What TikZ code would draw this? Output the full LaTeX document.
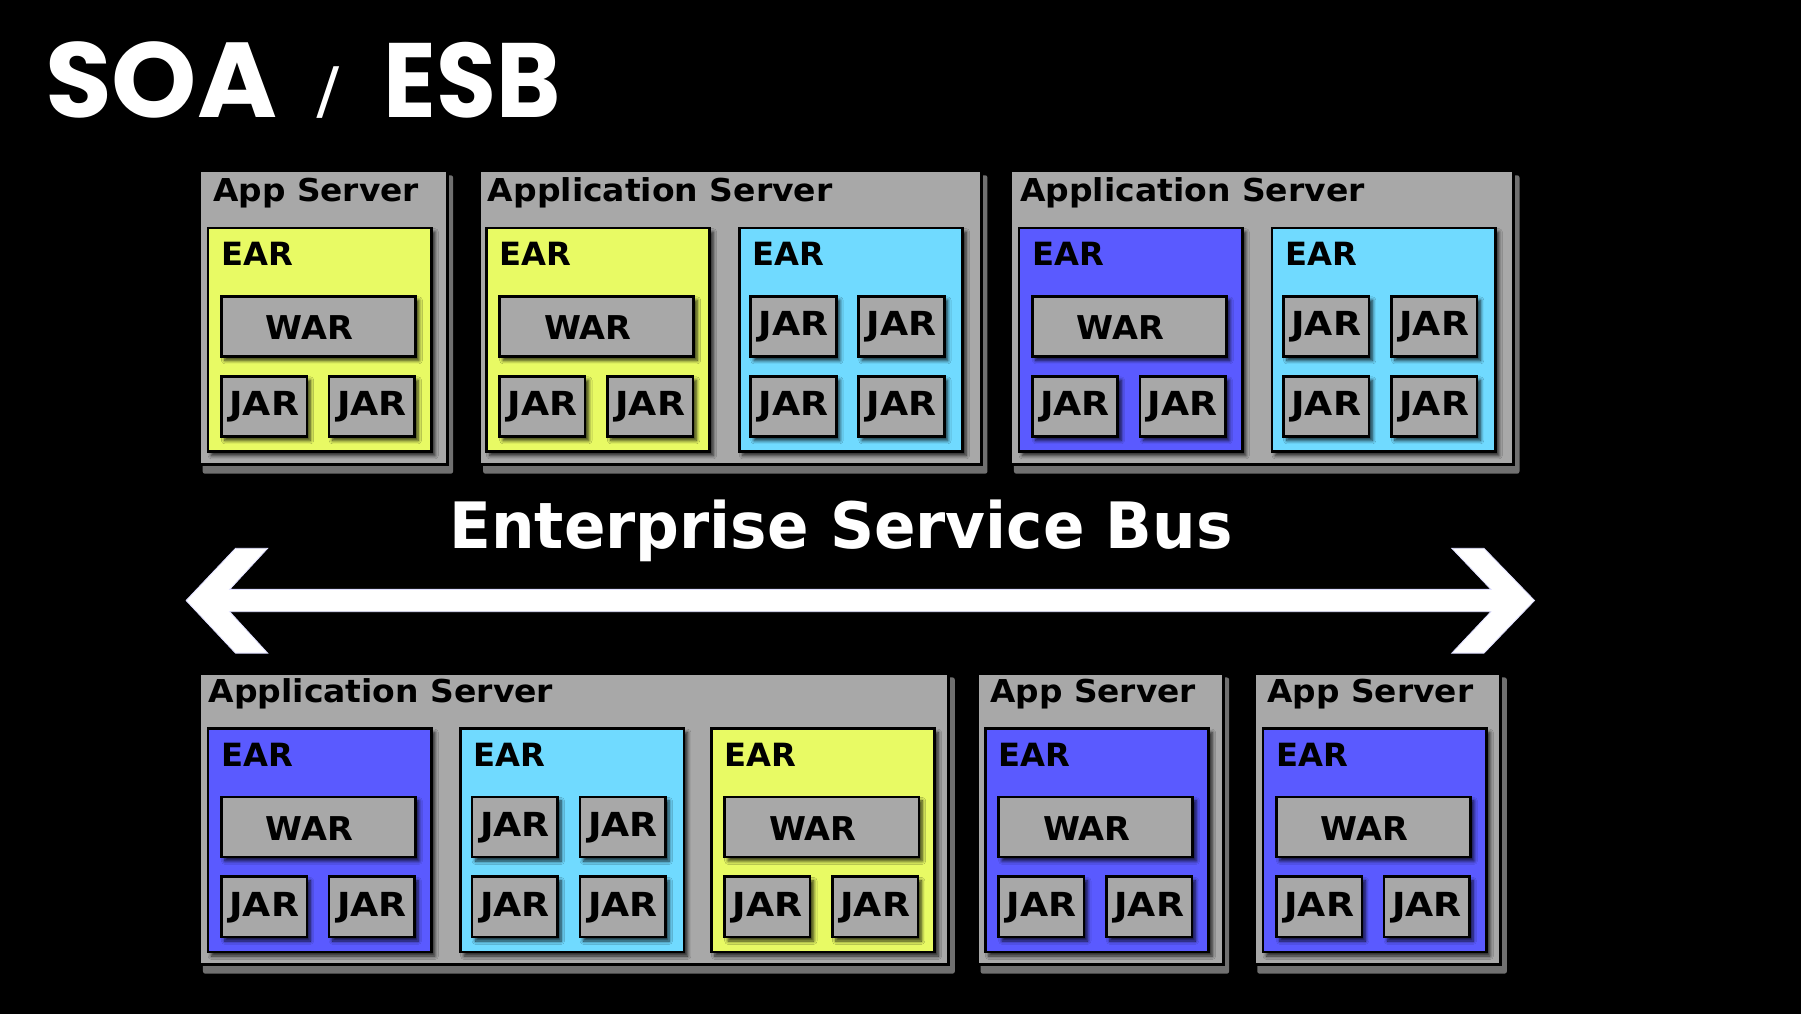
\documentclass[tikz,border=0pt]{standalone}
\usepackage{fontspec}
\usepackage{graphicx}
\setmainfont{DejaVu Sans}
\newfontfamily\titlefont{Poppins}
\usetikzlibrary{shadows.blur}

\definecolor{srvgray}{RGB}{168,168,168}
\definecolor{srvshadow}{RGB}{112,112,112}
\definecolor{earyellow}{RGB}{232,250,100}
\definecolor{earcyan}{RGB}{112,218,255}
\definecolor{earblue}{RGB}{90,90,255}
\definecolor{buslav}{RGB}{222,222,255}

\newlength\fitw
\newcommand\fitlbl[3]{\begingroup
  \edef\fitsz{\fpeval{#2/0.729}}%
  \fontsize{\fitsz}{\fitsz}\selectfont\bfseries
  \settowidth\fitw{#3}%
  \edef\fitsc{\fpeval{#1/\fitw}}%
  \scalebox{\fitsc}[1]{#3}\endgroup}

\tikzset{
  server/.style={draw=black, line width=2.5pt, fill=srvgray, inner sep=0pt},
  earbox/.style={draw=black, line width=2.3pt, inner sep=0pt,
    blur shadow={shadow xshift=3pt, shadow yshift=-3.5pt, shadow blur radius=3pt,
      shadow blur steps=6, shadow opacity=80}},
  item/.style={earbox, fill=srvgray},
  lbl/.style={inner sep=0pt, text=black},
  wlbl/.style={inner sep=0pt, text=white},
}

\newcommand\jar[3]{%
  \node[item, minimum width=74.4pt, minimum height=52.4pt, anchor=north west] (#1) at (#2,#3) {};
  \node[lbl, anchor=base] (#1t) at ({#2+38.4},{#3+35.3}) {\fitlbl{60.7}{21}{JAR}};
}
\newcommand\war[3]{%
  \node[item, minimum width=169pt, minimum height=52.3pt, anchor=north west] (#1) at (#2,#3) {};
  \node[lbl, anchor=base west] (#1t) at ({#2+39.7},{#3+39.2}) {\fitlbl{76}{20.8}{WAR}};
}
\newcommand\earhead[4]{%
  \node[earbox, fill=#2, minimum width=194.5pt, minimum height=194.5pt, anchor=north west] (#1) at (#3,#4) {};
  \node[lbl, anchor=base west] (#1t) at ({#3+12.5},{#4+34}) {\fitlbl{62.5}{20.3}{EAR}};
}
\newcommand\earwar[4]{%
  \earhead{#1}{#2}{#3}{#4}
  \war{#1w}{#3+11.6}{#4+59.4}
  \jar{#1j1}{#3+11.6}{#4+129}
  \jar{#1j2}{#3+105.4}{#4+129}
}
\newcommand\earjar[3]{%
  \earhead{#1}{earcyan}{#2}{#3}
  \jar{#1a}{#2+10}{#3+59.4}
  \jar{#1b}{#2+104}{#3+59.4}
  \jar{#1c}{#2+10}{#3+129}
  \jar{#1d}{#2+104}{#3+129}
}
\newcommand\server[5]{%
  \fill[srvshadow, rounded corners=2pt] ({#2+4},{#3+5}) rectangle ({#4+6.5},{#5+9});
  \node[server, minimum width={(#4-#2)*1pt}, minimum height={(#5-#3)*1pt}, anchor=north west] (#1) at (#2,#3) {};
}

\begin{document}
\begin{tikzpicture}[x=1pt, y=-1pt]
\useasboundingbox (0,0) rectangle (1568,882.8);
\fill[black] (0,0) rectangle (1568,882.8);

% title
\node[wlbl, anchor=base west] (soa) at (39,102.5) {\resizebox{202pt}{66pt}{\titlefont\bfseries SOA}};
\node[wlbl, anchor=south west] (slash) at (272.6,103) {\resizebox*{26pt}{45pt}{\titlefont /}};
\node[wlbl, anchor=base west] (esb) at (334,102.3) {\resizebox{154pt}{65.5pt}{\titlefont\bfseries ESB}};

% servers
\server{s1}{172.4}{147.6}{388}{403.4}
\server{s2}{416.6}{147.6}{853.2}{403.4}
\server{s3}{878.8}{147.6}{1316.4}{403.4}
\server{s4}{172.7}{584.8}{824.8}{838.7}
\server{s5}{849.7}{584.8}{1063.6}{838.7}
\server{s6}{1090.6}{584.8}{1305.4}{838.7}

\node[lbl, anchor=base west] (s1t) at (185.5,175.6) {\fitlbl{179}{20}{App Server}};
\node[lbl, anchor=base west] (s2t) at (424.6,175.6) {\fitlbl{300}{20}{Application Server}};
\node[lbl, anchor=base west] (s3t) at (888,175.6) {\fitlbl{300}{20}{Application Server}};
\node[lbl, anchor=base west] (s4t) at (181.4,611.8) {\fitlbl{300}{20}{Application Server}};
\node[lbl, anchor=base west] (s5t) at (862,611.8) {\fitlbl{179}{20}{App Server}};
\node[lbl, anchor=base west] (s6t) at (1103.4,611.8) {\fitlbl{179}{20}{App Server}};

% EARs
\earwar{e1}{earyellow}{180}{197.4}
\earwar{e2}{earyellow}{422.3}{197.4}
\earjar{e3}{642.5}{197.4}
\earwar{e4}{earblue}{886}{197.4}
\earjar{e5}{1106.3}{197.4}
\earwar{e6}{earblue}{180}{633.2}
\earjar{e7}{399.9}{633.2}
\earwar{e8}{earyellow}{618.2}{633.2}
\earwar{e9}{earblue}{856.7}{633.2}
\earwar{e10}{earblue}{1098.5}{633.2}

% bus
\node[wlbl, anchor=base west] (esbt) at (391,477.4) {\fitlbl{682}{40.6}{Enterprise Service Bus}};
\filldraw[fill=white, draw=buslav, line width=0.7pt, line join=miter]
  (162,522.8) -- (205,477.4) -- (233,477.4) -- (200,513.1) -- (1298,513.1)
  -- (1264,477.4) -- (1292,477.4) -- (1336,522.8) -- (1292,568.6) -- (1264,568.6)
  -- (1298,532.6) -- (200,532.6) -- (233,568.6) -- (205,568.6) -- cycle;
\end{tikzpicture}
\end{document}
